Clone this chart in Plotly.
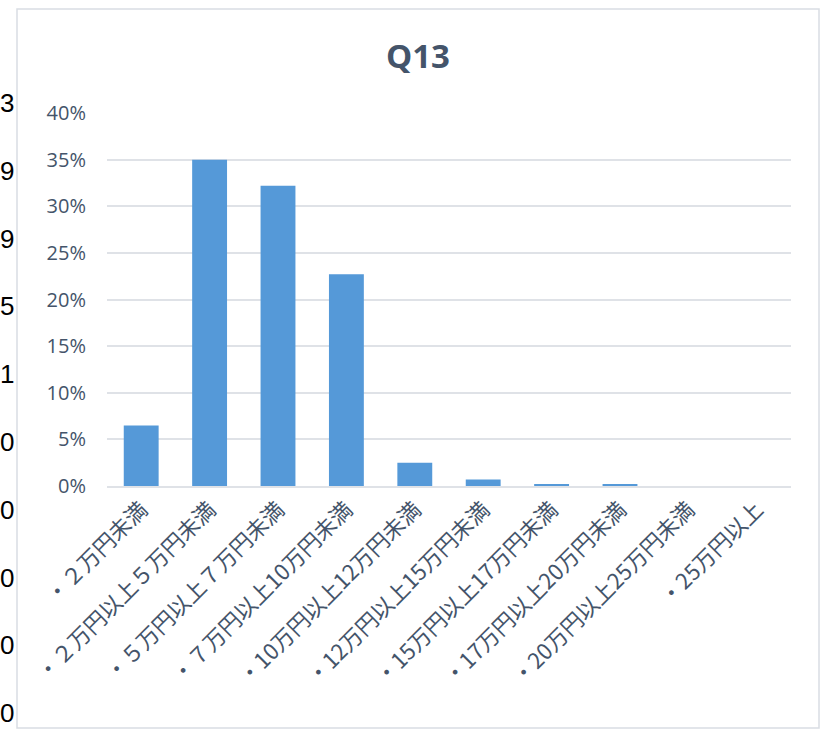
import plotly.graph_objects as go

# Q13 response shares (fraction of respondents)
categories = [
    "・２万円未満",
    "・２万円以上５万円未満",
    "・５万円以上７万円未満",
    "・７万円以上10万円未満",
    "・10万円以上12万円未満",
    "・12万円以上15万円未満",
    "・15万円以上17万円未満",
    "・17万円以上20万円未満",
    "・20万円以上25万円未満",
    "・25万円以上",
]
shares = [0.065, 0.350, 0.322, 0.227, 0.025, 0.007, 0.002, 0.002, 0.0, 0.0]

y_ticks = [0, 0.05, 0.10, 0.15, 0.20, 0.25, 0.30, 0.35, 0.40]
y_tick_labels = ["0%", "5%", "10%", "15%", "20%", "25%", "30%", "35%", "40%"]

# clipped digits from a neighbouring chart visible at the left edge
edge_digits = ["3", "9", "9", "5", "1", "0", "0", "0", "0", "0"]

W, H = 836, 729
L, R, T, B = 107, 45, 113, 243
pw, ph = W - L - R, H - T - B

TEXT = "#44546a"
GRID = "#dfe2e7"
FONT = "Open Sans, Noto Sans CJK JP, sans-serif"
JP_FONT = "Noto Sans CJK JP, sans-serif"

fig = go.Figure(
    go.Bar(
        x=categories,
        y=shares,
        marker=dict(color="#5599d8", line=dict(width=0)),
        hoverinfo="x+y",
    )
)


def px_x(x):
    return (x - L) / pw


def px_y(y):
    return (H - B - y) / ph


# outer chart frame
fig.add_shape(
    type="rect", xref="paper", yref="paper",
    x0=px_x(17), x1=px_x(819), y0=px_y(728), y1=px_y(9),
    line=dict(color="#d9dde3", width=1.5), fillcolor="rgba(0,0,0,0)",
    layer="below",
)

for i, d in enumerate(edge_digits):
    fig.add_annotation(
        text=d, xref="paper", yref="paper",
        x=px_x(-2), y=px_y(103 + i * 67.8),
        xanchor="left", yanchor="middle", showarrow=False,
        font=dict(family="Liberation Sans, Arial", size=26, color="#000000"),
    )

fig.update_layout(
    width=W, height=H,
    margin=dict(l=L, r=R, t=T, b=B),
    paper_bgcolor="white", plot_bgcolor="white",
    title=dict(
        text="<b>Q13</b>", x=0.5, xref="container", xanchor="center",
        y=1 - 56 / H, yref="container", yanchor="middle",
        font=dict(family=FONT, size=33, color=TEXT),
    ),
    bargap=0.49,
    showlegend=False,
    font=dict(family=FONT, color=TEXT),
    xaxis=dict(
        tickangle=-45,
        tickfont=dict(family=JP_FONT, size=22, color=TEXT),
        showline=True, linecolor=GRID, linewidth=2,
        showgrid=False, ticks="",
    ),
    yaxis=dict(
        range=[0, 0.40],
        tickvals=y_ticks, ticktext=y_tick_labels,
        tickfont=dict(size=20, color=TEXT),
        showgrid=True, gridcolor=GRID, gridwidth=1.5,
        zeroline=False, showline=False, ticks="",
        ticklabelstandoff=20,
    ),
)

fig.write_html(
    "out.html",
    config={"displayModeBar": False},
    post_script="document.body.style.margin='0';",
)
